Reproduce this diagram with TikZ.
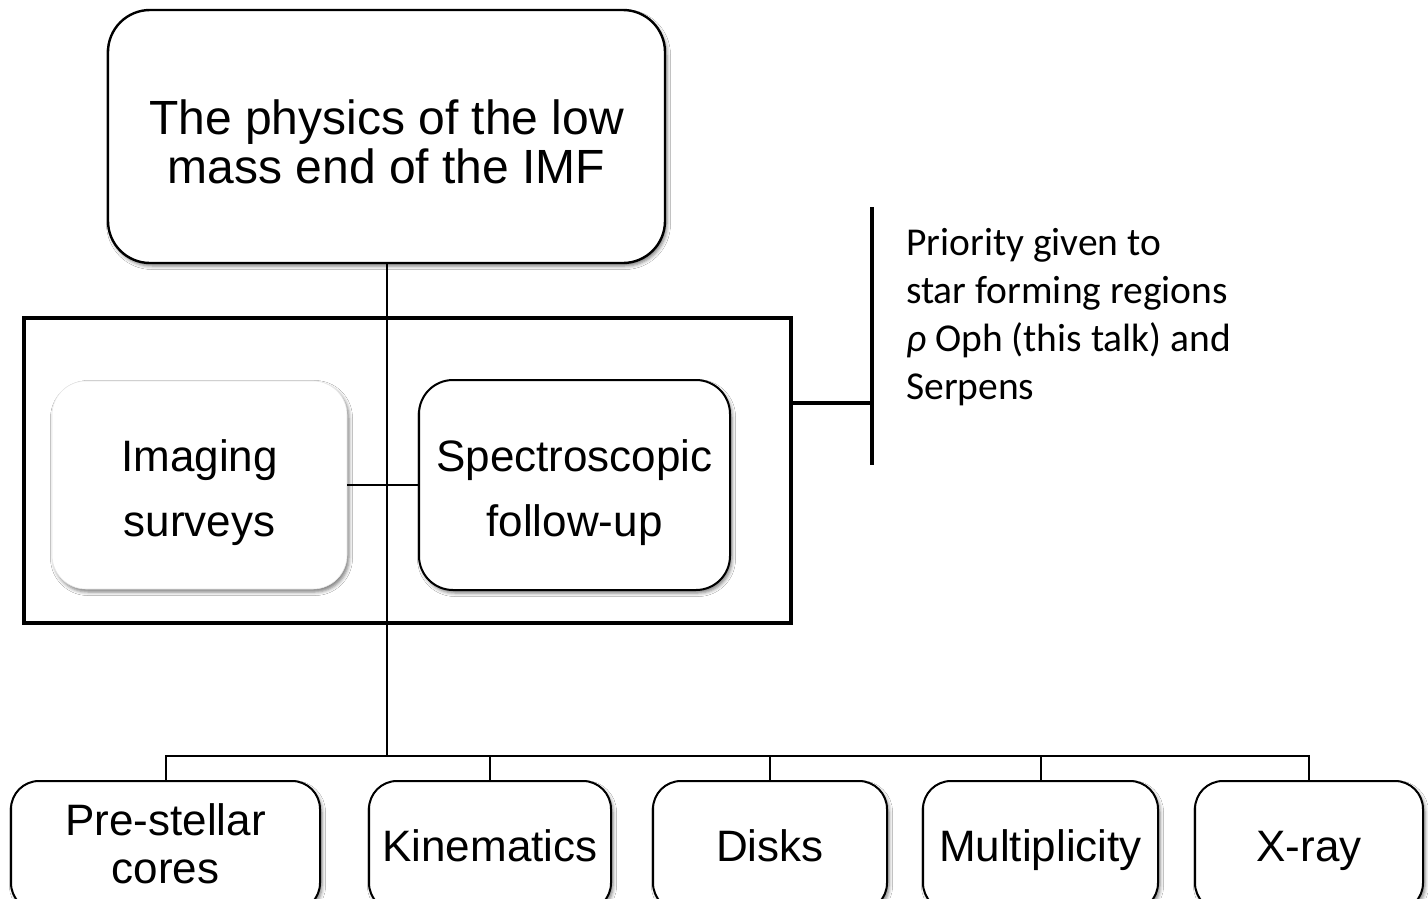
\documentclass[tikz,border=0pt]{standalone}
\usepackage{fontspec}
\newfontfamily\arialf{Liberation Sans}
\newfontfamily\calf{Carlito}
\usetikzlibrary{shadows.blur}
\newcommand{\mystrut}[1]{\rule{0pt}{#1}}
\begin{document}
\begin{tikzpicture}[x=1pt,y=-1pt,
  shad/.style={blur shadow={shadow xshift=2pt, shadow yshift=-3pt, shadow blur radius=3.5pt, shadow opacity=50}},
  topbox/.style={draw=black, line width=2.4pt, fill=white, rounded corners=42pt, shad, align=center, inner sep=0pt,
    font=\arialf\fontsize{48}{49}\selectfont},
  midbox/.style={fill=white, rounded corners=34pt, shad, align=center, inner sep=0pt, text depth=0pt,
    font=\arialf\fontsize{44}{65}\selectfont},
  botbox/.style={draw=black, line width=2pt, fill=white, rounded corners=28pt, shad, align=center, inner sep=0pt,
    minimum height=130pt, font=\arialf\fontsize{44}{48}\selectfont},
  oneline/.style={text height=31.5pt, text depth=0pt},
  frame/.style={draw=black, line width=4.5pt, inner sep=0pt},
  conn/.style={draw=black, line width=2pt},
  thickline/.style={draw=black, line width=4pt}]
\clip (0,0) rectangle (1428,898);
\fill[white] (0,0) rectangle (1428,898);
% frame
\node[frame, minimum width=767pt, minimum height=305pt] (frame) at (407.5,470.5) {};
% top box
\node[topbox, minimum width=557pt, minimum height=253pt] (top) at (386.5,136.5) {\mystrut{45pt}The physics of the low\\mass end of the IMF};
% middle boxes
\node[midbox, draw=gray!18, line width=0.6pt, minimum width=295pt, minimum height=208pt] (img) at (199.5,485) {\mystrut{38pt}Imaging\\surveys};
\node[midbox, draw=black, line width=2pt, minimum width=311pt, minimum height=210pt] (spec) at (574.5,485) {\mystrut{38.5pt}Spectroscopic\\follow-up};
% bottom boxes
\node[botbox, minimum width=309pt] (b1) at (165.5,846) {Pre-stellar\\cores\rule[-4pt]{0pt}{0pt}};
\node[botbox, oneline, minimum width=242pt] (b2) at (490,846) {Kinematics};
\node[botbox, oneline, minimum width=234pt] (b3) at (770,846) {Disks};
\node[botbox, oneline, minimum width=235pt] (b4) at (1040.5,846) {Multiplicity};
\node[botbox, oneline, minimum width=228pt] (b5) at (1309,846) {X-ray};
% note
\node[anchor=north west, inner sep=0pt, align=left, font=\calf\fontsize{39.5}{48}\selectfont] (note) at (906,228)
  {Priority given to\\star forming regions\\\textit{ρ} Oph (this talk) and\\Serpens};
% connectors
\coordinate (bus) at (386.5,756);
\draw[conn] (img.east) -- (spec.west);
\draw[conn] (top.south) -- (bus);
\draw[conn] (bus) -| (b1.north);
\draw[conn] (bus) -| (b2.north);
\draw[conn] (bus) -| (b3.north);
\draw[conn] (bus) -| (b4.north);
\draw[conn] (bus) -| (b5.north);
\coordinate (brk) at (872,403);
\coordinate (bt) at (872,207);
\coordinate (bb) at (872,465);
\draw[thickline] (frame.east |- brk) -- (brk);
\draw[thickline] (bt) -- (bb);
\end{tikzpicture}
\end{document}
